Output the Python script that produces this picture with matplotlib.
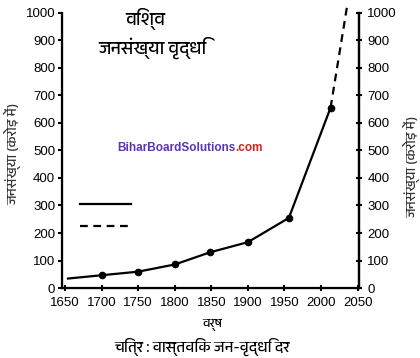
import matplotlib
matplotlib.use("Agg")
from matplotlib import pyplot as plt
from matplotlib import font_manager
from matplotlib.lines import Line2D

# data (population in crore)
years = [1654, 1700, 1750, 1800, 1848, 1900, 1956, 2013]
population = [35, 47, 60, 86, 130, 167, 255, 655]
marker_years = years[1:]
marker_pop = population[1:]
proj_years = [2013, 2036]
proj_pop = [655, 1030]

xticks = list(range(1650, 2051, 50))
yticks = list(range(0, 1001, 100))

title_lines = ["विश्व", "जनसंख्या वृद्धि"]
ylabel = "जनसंख्या (करोड़ में)"
xlabel = "वर्ष"
caption = "चित्र : वास्तविक जन-वृद्धि दर"

# look for any installed font that can draw Devanagari
names = sorted({f.name for f in font_manager.fontManager.ttflist})
deva = [n for n in names if "Devanagari" in n or n in ("FreeSans", "FreeSerif", "Lohit Hindi", "Mangal", "Gargi")]
hindi = deva + ["DejaVu Sans"]

plt.rcParams["font.family"] = ["Liberation Sans", "DejaVu Sans"]

fig = plt.figure(figsize=(4.2, 3.58), dpi=100)
ax = fig.add_axes([0.148, 0.195, 0.707, 0.770])

ax.plot(years, population, "-", color="black", lw=1.6)
ax.plot(marker_years, marker_pop, "o", color="black", ms=4.5)
ax.plot(proj_years, proj_pop, "--", color="black", lw=1.6, dashes=(3.5, 2.5), clip_on=False)

ax.set_xlim(1646, 2052)
ax.set_ylim(0, 1000)
ax.set_xticks(xticks)
ax.set_yticks(yticks)
ax.spines["top"].set_visible(False)
for s in ("left", "bottom", "right"):
    ax.spines[s].set_linewidth(1.6)
ax.tick_params(axis="x", direction="inout", length=5, width=1.5, labelsize=9.5, pad=4)
ax.tick_params(axis="y", direction="out", length=3, width=1.5, labelsize=9.5, pad=2)

ax2 = ax.twinx()
ax2.set_ylim(0, 1000)
ax2.set_yticks(yticks)
ax2.spines["top"].set_visible(False)
ax2.spines["right"].set_linewidth(1.6)
ax2.tick_params(axis="y", direction="inout", length=4, width=1.5, labelsize=9.5, pad=4)

# headings inside the plot
fig.text(0.346, 0.948, title_lines[0], family=hindi, fontsize=13, ha="center", va="center")
fig.text(0.362, 0.866, title_lines[1], family=hindi, fontsize=13, ha="center", va="center")

# watermark
fig.text(0.560, 0.587, "BiharBoardSolutions", color="#5b35b8", fontsize=8.5,
         fontweight="bold", ha="right", va="center")
fig.text(0.560, 0.587, ".com", color="#d42020", fontsize=8.5,
         fontweight="bold", ha="left", va="center")

# axis labels
fig.text(0.030, 0.57, ylabel, family=hindi, fontsize=10, rotation=90, ha="center", va="center", color="#333333")
fig.text(0.980, 0.535, ylabel, family=hindi, fontsize=10, rotation=90, ha="center", va="center", color="#333333")
fig.text(0.505, 0.092, xlabel, family=hindi, fontsize=9, fontweight="bold", ha="center", va="center")
fig.text(0.482, 0.030, caption, family=hindi, fontsize=11, fontweight="bold", ha="center", va="center")

# legend samples without labels
handles = [Line2D([], [], color="black", lw=1.6),
           Line2D([], [], color="black", lw=1.6, ls="--", dashes=(3.5, 2.5))]
fig.legend(handles, ["", ""], loc="center left", bbox_to_anchor=(0.19, 0.397),
           frameon=False, handlelength=3.7, handletextpad=0, borderpad=0,
           borderaxespad=0, labelspacing=0.58, fontsize=10)

fig.savefig("out.png", dpi=100)
